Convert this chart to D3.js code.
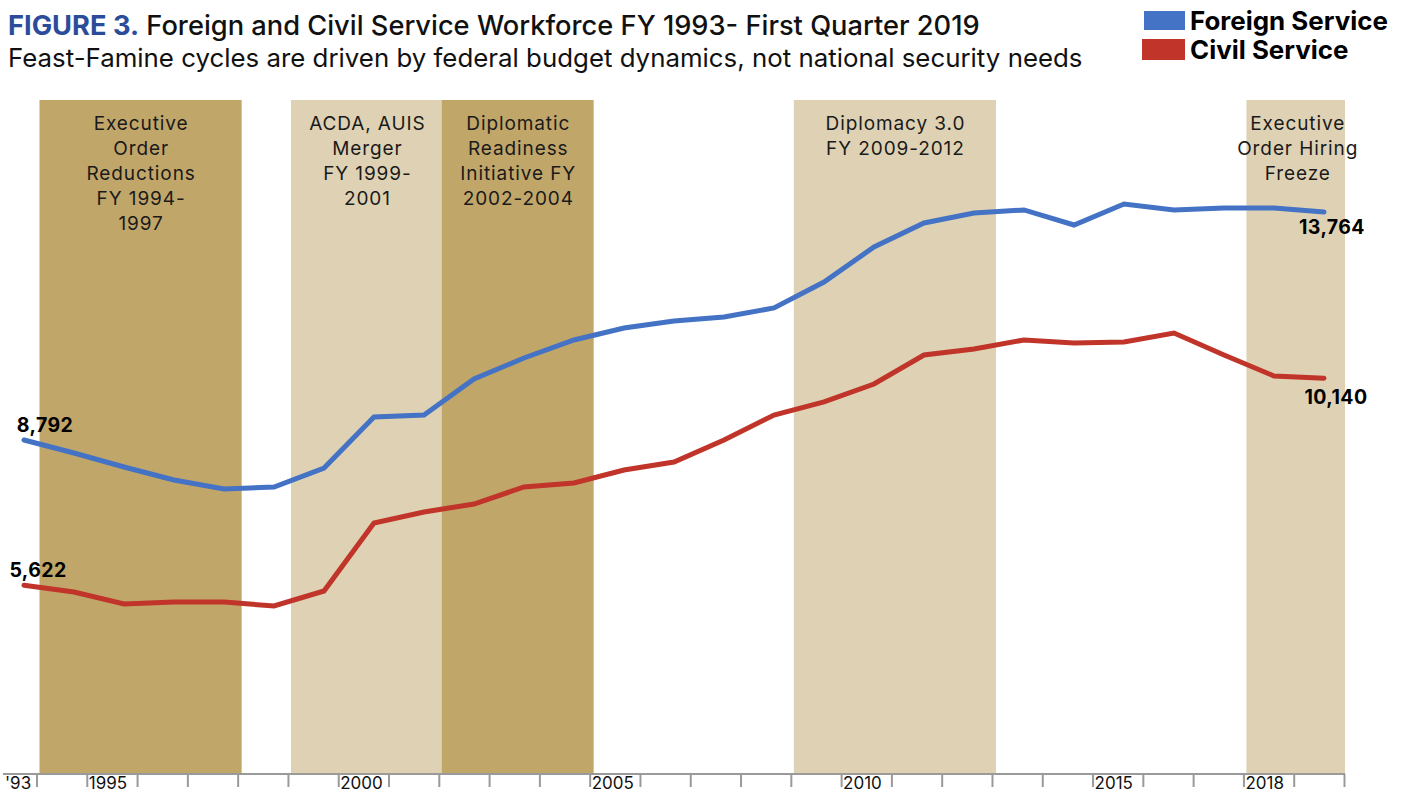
<!DOCTYPE html>
<html>
<head>
<meta charset="utf-8">
<script src="https://cdn.jsdelivr.net/npm/d3@7"></script>
<style>
  body { margin: 0; background: #fff; }
  svg { display: block; }
  text { font-family: Inter, "Noto Sans", sans-serif; }
</style>
</head>
<body>
<svg id="chart" width="1401" height="795"></svg>
<script>
'use strict';
// workforce counts
const years = [1993, 1994, 1995, 1996, 1997, 1998, 1999, 2000, 2001, 2002, 2003, 2004, 2005,
  2006, 2007, 2008, 2009, 2010, 2011, 2012, 2013, 2014, 2015, 2016, 2017, 2018, 2019];
const foreignService = [8792, 8509, 8203, 7920, 7723, 7767, 8181, 9294, 9337, 10122, 10580, 10973, 11234,
  11387, 11474, 11671, 12237, 13001, 13524, 13742, 13808, 13480, 13938, 13808, 13851, 13851, 13764];
const civilService = [5622, 5477, 5216, 5259, 5259, 5172, 5499, 6982, 7222, 7396, 7767, 7854, 8138,
  8312, 8792, 9337, 9621, 10013, 10646, 10776, 10973, 10907, 10929, 11125, 10646, 10188, 10140];

// axis ticks sit on the year boundaries
const tickYears = [1994, 1995, 1996, 1997, 1998, 1999, 2000, 2001, 2002, 2003, 2004, 2005, 2006, 2007,
  2008, 2009, 2010, 2011, 2012, 2013, 2014, 2015, 2016, 2017, 2018, 2019, 2020];
const labelYears = [1993, 1995, 2000, 2005, 2010, 2015, 2018];
const labelTexts = ["'93", "1995", "2000", "2005", "2010", "2015", "2018"];

// shaded policy periods
const bandStart = [1994, 1999, 2002, 2009, 2018];
const bandEnd = [1998, 2002, 2005, 2013, 2020];
const bandShade = ["dark", "light", "dark", "light", "light"];
const bandLabels = [
  ["Executive", "Order", "Reductions", "FY 1994-", "1997"],
  ["ACDA, AUIS", "Merger", "FY 1999-", "2001"],
  ["Diplomatic", "Readiness", "Initiative FY", "2002-2004"],
  ["Diplomacy 3.0", "FY 2009-2012"],
  ["Executive", "Order Hiring", "Freeze"]
];

const seriesNames = ["Foreign Service", "Civil Service"];

const blue = "#4472c4";
const red = "#c0342a";
const shade = { dark: "#c1a66a", light: "#dfd2b4" };

const svg = d3.select("#chart");

const x = d3.scaleLinear().domain([1993, 2019]).range([24, 1324]);
const xTick = d3.scaleLinear().domain([1994, 2020]).range([36.5, 1344]);
const y = d3.scaleLinear().domain([1508, 16206]).range([774, 100]);

// scale a text's font so it spans a given width
const fitWidth = (sel, w) => {
  const cur = sel.node().getComputedTextLength();
  const fs = parseFloat(sel.attr("font-size"));
  sel.attr("font-size", fs * w / cur);
  return fs * w / cur;
};

// bands
const bands = svg.append("g");
bands.selectAll("rect")
  .data(bandStart)
  .join("rect")
  .attr("x", d => xTick(d) + 3)
  .attr("width", (d, i) => Math.min(xTick(bandEnd[i]) - xTick(d) + 1, 1345 - xTick(d) - 3))
  .attr("y", y(16206))
  .attr("height", y(1508) - y(16206))
  .attr("fill", (d, i) => shade[bandShade[i]]);

bands.selectAll("text")
  .data(bandLabels)
  .join("text")
  .attr("text-anchor", "middle")
  .attr("font-size", 19)
  .attr("letter-spacing", 0.9)
  .attr("fill", "#1a1a1a")
  .attr("transform", (d, i) => `translate(${(xTick(bandStart[i]) + xTick(bandEnd[i])) / 2 + 4},130)`)
  .selectAll("tspan")
  .data(d => d)
  .join("tspan")
  .attr("x", 0)
  .attr("y", (d, i) => i * 25)
  .text(d => d);

// axis
const axis = svg.append("g")
  .attr("transform", `translate(0,${y(1508)})`)
  .call(d3.axisBottom(xTick).tickValues(tickYears).tickSize(13).tickFormat("").tickSizeOuter(0));
axis.select(".domain").remove();
axis.selectAll(".tick line").attr("stroke", "#9a9a9a").attr("stroke-width", 2);
axis.append("line")
  .attr("x1", 3).attr("x2", xTick(2020) + 1)
  .attr("stroke", "#9a9a9a").attr("stroke-width", 2);

axis.selectAll(".yearlabel")
  .data(labelYears)
  .join("text")
  .attr("class", "yearlabel")
  .attr("x", d => Math.max(5, xTick(d) + 2))
  .attr("y", 15)
  .attr("font-size", 17)
  .attr("fill", "#111")
  .attr("text-anchor", "start")
  .text((d, i) => labelTexts[i]);

// lines
const line = d3.line()
  .x((d, i) => x(years[i]))
  .y(d => y(d));

svg.append("path")
  .datum(civilService)
  .attr("d", line)
  .attr("fill", "none")
  .attr("stroke", red)
  .attr("stroke-width", 5)
  .attr("stroke-linecap", "round");

svg.append("path")
  .datum(foreignService)
  .attr("d", line)
  .attr("fill", "none")
  .attr("stroke", blue)
  .attr("stroke-width", 5)
  .attr("stroke-linecap", "round");

// end labels
const fmt = d3.format(",");
const last = years.length - 1;
const endLabels = [
  { v: foreignService[0], yr: years[0], dx: 21, dy: -8 },
  { v: civilService[0], yr: years[0], dx: 14, dy: -8 },
  { v: foreignService[last], yr: years[last], dx: 8, dy: 22 },
  { v: civilService[last], yr: years[last], dx: 12, dy: 26 }
];
svg.append("g").selectAll("text")
  .data(endLabels)
  .join("text")
  .attr("x", d => x(d.yr) + d.dx)
  .attr("y", d => y(d.v) + d.dy)
  .attr("text-anchor", "middle")
  .attr("font-size", 19.5)
  .attr("letter-spacing", 0.4)
  .attr("font-weight", 700)
  .attr("fill", "#000")
  .text(d => fmt(d.v));

// title
const title = svg.append("text")
  .attr("x", 8).attr("y", 35)
  .attr("font-size", 24)
  .attr("fill", "#111");
title.append("tspan").attr("font-weight", 700).attr("fill", "#2b4c9b").text("FIGURE 3.");
title.append("tspan").attr("font-weight", 500).text(" Foreign and Civil Service Workforce FY 1993- First Quarter 2019");
fitWidth(title, 972);

const sub = svg.append("text")
  .attr("x", 8).attr("y", 67)
  .attr("font-size", 24)
  .attr("font-weight", 400)
  .attr("fill", "#111")
  .text("Feast-Famine cycles are driven by federal budget dynamics, not national security needs");
fitWidth(sub, 1075);

// legend
const legend = svg.append("g");
legend.append("rect").attr("x", 1144).attr("y", 11).attr("width", 41).attr("height", 19).attr("fill", blue);
legend.append("rect").attr("x", 1142).attr("y", 39).attr("width", 43).attr("height", 21).attr("fill", red);
const lg1 = legend.append("text")
  .attr("x", 1190).attr("y", 30)
  .attr("font-size", 24).attr("font-weight", 700).attr("fill", "#000")
  .text(seriesNames[0]);
const lfs = fitWidth(lg1, 198);
legend.append("text")
  .attr("x", 1190).attr("y", 59)
  .attr("font-size", lfs).attr("font-weight", 700).attr("fill", "#000")
  .text(seriesNames[1]);
</script>
</body>
</html>
